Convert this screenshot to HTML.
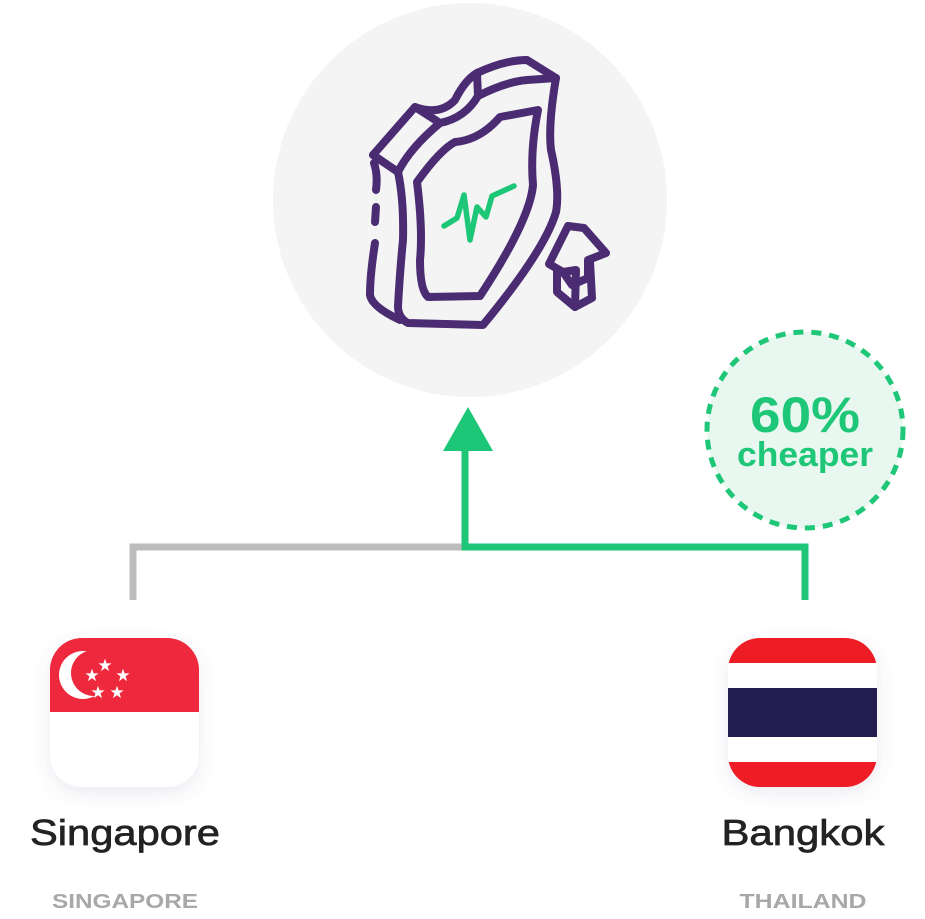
<!DOCTYPE html>
<html><head><meta charset="utf-8"><style>
html,body{margin:0;padding:0;background:#fff;}
svg{display:block;}
</style></head><body>
<svg width="925" height="919" viewBox="0 0 925 919" xmlns="http://www.w3.org/2000/svg">
<defs>
<filter id="sh" x="-30%" y="-30%" width="160%" height="160%"><feDropShadow dx="0" dy="6" stdDeviation="9" flood-color="#6a5a8a" flood-opacity="0.12"/></filter>
<clipPath id="c1"><rect x="50" y="638" width="149" height="149" rx="32"/></clipPath>
<clipPath id="c2"><rect x="728" y="638" width="149" height="149" rx="32"/></clipPath>
</defs>
<circle cx="470" cy="200" r="197" fill="#f4f4f4"/>
<g fill="none" stroke="#4b2c72" stroke-width="8" stroke-linecap="round" stroke-linejoin="round">
<path d="M373,155 L415,107 Q440,116 455,100 Q465,80 477,73 Q505,60 527,60 L556,78 Q548,125 551,150 Q560,190 556,212 Q545,250 483,325 L408,323 Q398,318 398,306 Q400,270 403,240 Q404,200 398,172 Z"/>
<path d="M373,155 L398,172"/>
<path d="M415,107 L440,123 Q465,118 478,96 L477,73"/>
<path d="M478,96 Q505,82 527,80 L556,78"/>
<path d="M440,123 Q410,148 398,172"/>
<path d="M374,163 Q378,175 376,190"/>
<path d="M376,207 L375,222"/>
<path d="M375,243 Q370,275 370,295 Q372,307 400,320"/>
<path d="M417,182 Q440,150 455,142 Q480,140 500,117 L538,110 Q530,150 533,185 Q530,220 480,296 L428,297 Q420,290 420,260 Q423,230 417,182 Z"/>
<path d="M568,226 L549,264 L563,272 L572,285 L588,278 L588,260 L606,253 L584,228 Z"/>
<path d="M557,271 L557,292 L575,307 L592,298 L590,262"/>
<path d="M563,272 L576,270 L575,307"/>
</g>
<polyline points="444,226 457,218 464,195 470,240 477,207 486,217 492,196 514,186" fill="none" stroke="#1ec677" stroke-width="5.5" stroke-linecap="round" stroke-linejoin="round"/>
<circle cx="805" cy="430" r="98" fill="#e8f7ef" stroke="#1ec677" stroke-width="5" stroke-dasharray="10 8"/>
<text x="805" y="432" text-anchor="middle" font-family="Liberation Sans, sans-serif" font-weight="bold" font-size="50" fill="#1ec677" textLength="110" lengthAdjust="spacingAndGlyphs">60%</text>
<text x="805" y="466" text-anchor="middle" font-family="Liberation Sans, sans-serif" font-weight="bold" font-size="34" fill="#1ec677" textLength="136" lengthAdjust="spacingAndGlyphs">cheaper</text>
<polyline points="133,600 133,547 465,547" fill="none" stroke="#bcbcbc" stroke-width="7"/>
<polyline points="465,450 465,547 805,547 805,600" fill="none" stroke="#1ec677" stroke-width="7"/>
<polygon points="443,451 493,451 468,407" fill="#1ec677"/>
<g filter="url(#sh)"><rect x="50" y="638" width="149" height="149" rx="32" fill="#fff"/></g>
<g clip-path="url(#c1)">
<rect x="50" y="638" width="149" height="74" fill="#ee293d"/>
<rect x="50" y="712" width="149" height="75" fill="#fff"/>
<circle cx="83" cy="675" r="24" fill="#fff"/>
<circle cx="94" cy="673" r="23" fill="#ee293d"/>
<g fill="#fff" font-family="DejaVu Sans, sans-serif" font-size="17" text-anchor="middle">
<text x="105" y="671">★</text><text x="92" y="681">★</text><text x="123" y="681">★</text><text x="98" y="698">★</text><text x="117" y="698">★</text>
</g>
</g>
<g filter="url(#sh)"><rect x="728" y="638" width="149" height="149" rx="32" fill="#fff"/></g>
<g clip-path="url(#c2)">
<rect x="728" y="638" width="149" height="25" fill="#ee1c25"/>
<rect x="728" y="663" width="149" height="25" fill="#fff"/>
<rect x="728" y="688" width="149" height="49" fill="#241d4f"/>
<rect x="728" y="737" width="149" height="25" fill="#fff"/>
<rect x="728" y="762" width="149" height="25" fill="#ee1c25"/>
</g>
<text x="125" y="845" text-anchor="middle" font-family="Liberation Sans, sans-serif" font-size="36" fill="#222" stroke="#222" stroke-width="0.7" textLength="190" lengthAdjust="spacingAndGlyphs">Singapore</text>
<text x="803" y="845" text-anchor="middle" font-family="Liberation Sans, sans-serif" font-size="36" fill="#222" stroke="#222" stroke-width="0.7" textLength="163" lengthAdjust="spacingAndGlyphs">Bangkok</text>
<text x="125" y="908" text-anchor="middle" font-family="Liberation Sans, sans-serif" font-weight="bold" font-size="20" fill="#a8a8a8" textLength="146" lengthAdjust="spacingAndGlyphs">SINGAPORE</text>
<text x="803" y="908" text-anchor="middle" font-family="Liberation Sans, sans-serif" font-weight="bold" font-size="20" fill="#a8a8a8" textLength="127" lengthAdjust="spacingAndGlyphs">THAILAND</text>
</svg>
</body></html>
